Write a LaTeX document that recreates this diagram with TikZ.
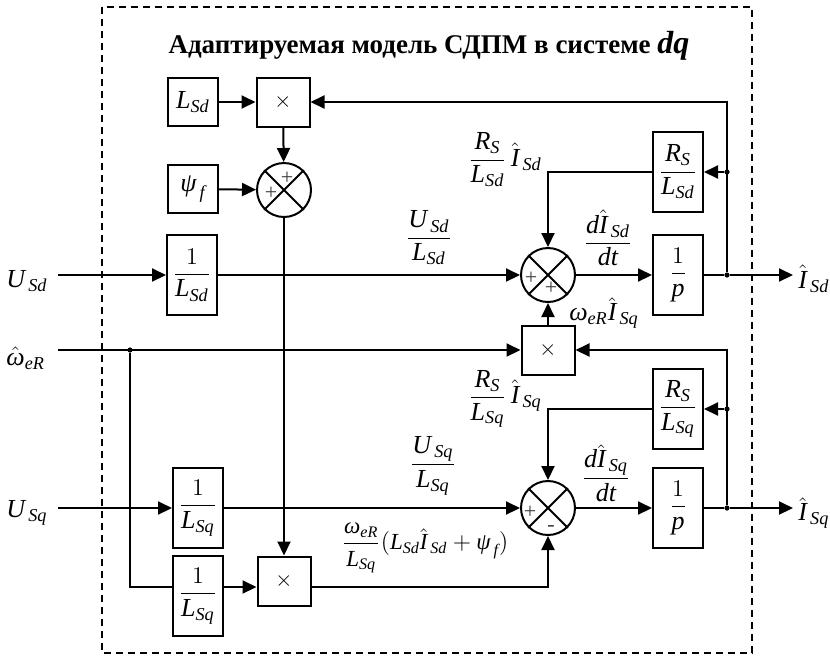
\documentclass[tikz,border=0pt]{standalone}
\usepackage{amsmath}
\usepackage{fontspec}
\setmainfont{Liberation Serif}
\usetikzlibrary{arrows.meta,calc}
\newcommand{\mi}[1]{\mathit{#1}}
\newcommand{\hI}{\hat{\mathit{I}}}
\newcommand{\gw}{\text{\itshape ω}}
\newcommand{\gpsi}{\text{\itshape ψ}}
\tikzset{
  wire/.style={line width=1pt},
  arr/.style={wire,-{Triangle[length=7pt,width=6.5pt]}},
  tallbox/.style={draw,line width=1pt,fill=white,minimum width=25pt,minimum height=40pt,inner sep=0pt,font=\fontsize{13}{14}\selectfont},
  smallbox/.style={draw,line width=1pt,fill=white,minimum width=25pt,minimum height=24pt,inner sep=0pt,font=\fontsize{13}{14}\selectfont},
  multbox/.style={draw,line width=1pt,fill=white,minimum width=26.5pt,minimum height=24.5pt,inner sep=0pt,font=\fontsize{11}{12}\selectfont},
  sumnode/.style={draw,circle,line width=1pt,minimum size=27pt,inner sep=0pt},
  sign/.style={font=\fontsize{11}{11}\selectfont,text=black!75,inner sep=0pt},
  lbl/.style={inner sep=0pt,font=\fontsize{13}{15}\selectfont},
  dotn/.style={circle,fill=black,minimum size=2.6pt,inner sep=0pt},
  frame/.style={dashed,line width=0.7pt,dash pattern=on 3.5pt off 2.5pt}
}
\newcommand{\sumx}[1]{\draw[line width=1pt] (#1.45)--(#1.225) (#1.135)--(#1.315);}
\begin{document}
\begin{tikzpicture}[x=0.5pt,y=-0.5pt]
\useasboundingbox (0,0) rectangle (830,655);
\draw[frame] (102,7) rectangle (752,653);
\node[font=\fontsize{13.5}{15}\selectfont\bfseries] (title) at (429,46) {Адаптируемая модель СДПМ в системе {\fontsize{16}{16}\selectfont\textit{dq}}};

% upper-left group
\node[smallbox] (bLSd) at (193,102) {$\mi{L}_{\mi{Sd}}$};
\node[multbox] (m1) at (283,102) {$\times$};
\node[smallbox] (bpsi) at (193,189) {$\gpsi_{\,\mi{f}}$};
\node[sumnode] (s1) at (284,190) {};
\sumx{s1}
\node[sign] at (287,178) {+};
\node[sign] at (271,193) {+};

% d channel
\node[tallbox] (bUd) at (192,275) {$\dfrac{1}{\mi{L}_{\mi{Sd}}}$};
\node[sumnode] (s2) at (548,275) {};
\sumx{s2}
\node[sign] at (531,278) {+};
\node[sign] at (551,288) {+};
\node[tallbox] (bp1) at (678,275) {$\dfrac{1}{\mi{p}}$};
\node[tallbox] (bRd) at (678,172) {$\dfrac{\mi{R}_{\mi{S}}}{\mi{L}_{\mi{Sd}}}$};
\node[dotn] (jd) at (727,275) {};
\node[dotn] (jRd) at (727,172) {};
\coordinate (ud) at (58,275);
\coordinate (outd) at (793,275);
\node[lbl,anchor=west] (lUd) at (6,281) {$\mi{U}_{\,\mi{Sd}}$};
\node[lbl,anchor=west] (lId) at (798,279) {$\hI_{\,\mi{Sd}}$};

% omega
\node[multbox] (m2) at (548,350) {$\times$};
\coordinate (win) at (58,350);
\node[dotn] (jw) at (130,350) {};
\node[lbl,anchor=west] (lw) at (6,358) {$\hat{\gw}_{\mi{eR}}$};

% q channel
\node[tallbox] (bUq) at (198,508) {$\dfrac{1}{\mi{L}_{\mi{Sq}}}$};
\node[tallbox] (bLq2) at (198,596) {$\dfrac{1}{\mi{L}_{\mi{Sq}}}$};
\node[multbox] (m3) at (284,581) {$\times$};
\node[sumnode] (s3) at (548,508) {};
\sumx{s3}
\node[sign] at (530,512) {+};
\node[sign] at (551,528) {-};
\node[tallbox] (bp2) at (678,508) {$\dfrac{1}{\mi{p}}$};
\node[tallbox] (bRq) at (678,409) {$\dfrac{\mi{R}_{\mi{S}}}{\mi{L}_{\mi{Sq}}}$};
\node[dotn] (jq) at (727,508) {};
\node[dotn] (jRq) at (727,409) {};
\coordinate (uq) at (58,508);
\coordinate (outq) at (793,508);
\coordinate (lq) at (130,587);
\node[lbl,anchor=west] (lUq) at (6,513) {$\mi{U}_{\,\mi{Sq}}$};
\node[lbl,anchor=west] (lIq) at (798,513) {$\hI_{\,\mi{Sq}}$};

% signal labels
\node[lbl] (fUd) at (429,238) {$\dfrac{\mi{U}_{\,\mi{Sd}}}{\mi{L}_{\mi{Sd}}}$};
\node[lbl] (fdId) at (608,238) {$\dfrac{\mi{d}\hI_{\,\mi{Sd}}}{\mi{dt}}$};
\node[lbl] (fwI) at (604,313) {$\gw_{\mi{eR}}\hI_{\,\mi{Sq}}$};
\node[lbl] (fRd) at (505,160) {$\dfrac{\mi{R}_{\mi{S}}}{\mi{L}_{\mi{Sd}}}\,\hI_{\,\mi{Sd}}$};
\node[lbl] (fRq) at (505,399) {$\dfrac{\mi{R}_{\mi{S}}}{\mi{L}_{\mi{Sq}}}\,\hI_{\,\mi{Sq}}$};
\node[lbl] (fUq) at (433,466) {$\dfrac{\mi{U}_{\,\mi{Sq}}}{\mi{L}_{\mi{Sq}}}$};
\node[lbl] (fdIq) at (606,473) {$\dfrac{\mi{d}\hI_{\,\mi{Sq}}}{\mi{dt}}$};
\node[lbl,font=\fontsize{11.5}{13}\selectfont] (fw) at (425,548) {$\dfrac{\gw_{\mi{eR}}}{\mi{L}_{\mi{Sq}}}(\mi{L}_{\mi{Sd}}\hI_{\,\mi{Sd}}+\gpsi_{\,\mi{f}})$};

% connectors
\draw[arr] (bLSd) -- (m1);
\draw[arr] (m1) -- (s1);
\draw[arr] (bpsi) -- (s1);
\draw[arr] (s1) -- (m3);
\draw[arr] (ud) -- (bUd);
\draw[arr] (bUd) -- (s2);
\draw[arr] (s2) -- (bp1);
\draw[wire] (bp1) -- (jd);
\draw[arr] (jd) -- (outd);
\draw[arr] (jd) |- (m1.east);
\draw[arr] (jRd) -- (bRd);
\draw[arr] (bRd.west) -| (s2.north);
\draw[arr] (win) -- (m2);
\draw[arr] (m2) -- (s2);
\draw[arr] (jq) |- (m2.east);
\draw[arr] (uq) -- (bUq);
\draw[arr] (bUq) -- (s3);
\draw[arr] (s3) -- (bp2);
\draw[wire] (bp2) -- (jq);
\draw[arr] (jq) -- (outq);
\draw[arr] (jRq) -- (bRq);
\draw[arr] (bRq.west) -| (s3.north);
\draw[wire] (jw) -- (lq) -- (lq -| bLq2.west);
\draw[arr] (lq -| bLq2.east) -- (lq -| m3.west);
\draw[arr] (lq -| m3.east) -| (s3.south);
\end{tikzpicture}
\end{document}
